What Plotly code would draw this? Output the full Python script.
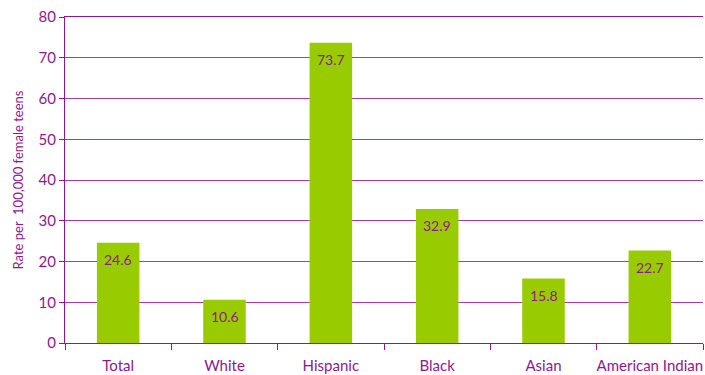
import plotly.graph_objects as go

categories = ["Total", "White", "Hispanic", "Black", "Asian", "American Indian"]
rates = [24.6, 10.6, 73.7, 32.9, 15.8, 22.7]
y_ticks = [0, 10, 20, 30, 40, 50, 60, 70, 80]

purple = "#8B1A8B"
green = "#99CC00"
font_family = "Lato, 'Open Sans', sans-serif"

fig = go.Figure()
fig.add_trace(go.Bar(
    x=categories, y=rates, marker=dict(color=green, line=dict(width=0)),
    width=0.4, hoverinfo="skip",
))

for c, v in zip(categories, rates):
    fig.add_annotation(x=c, y=v, text=f"{v:.1f}", showarrow=False, yanchor="middle",
                       yshift=-17, font=dict(family=font_family, size=14, color=purple))

fig.update_layout(
    width=705, height=375,
    margin=dict(l=65, r=2, t=17, b=32),
    plot_bgcolor="white", paper_bgcolor="white",
    showlegend=False,
    bargap=0.6,
    font=dict(family=font_family, color=purple),
)
fig.update_xaxes(
    type="category", tickson="boundaries", ticks="outside", ticklen=6,
    tickcolor=purple, tickwidth=1, showgrid=False,
    showline=True, linecolor=purple, linewidth=1, mirror=True,
    tickfont=dict(family=font_family, size=15, color=purple),
    ticklabelstandoff=9, automargin=False, tickangle=0,
    range=[-0.5, 5.5],
)
fig.update_yaxes(
    range=[0, 80], tickmode="array", tickvals=y_ticks,
    ticks="outside", ticklen=5, tickcolor=purple,
    showgrid=True, gridcolor="#A040A0", gridwidth=1,
    showline=True, linecolor=purple, linewidth=1,
    zeroline=False, automargin=False,
    tickfont=dict(family=font_family, size=15, color=purple),
    title=dict(text="Rate per  100,000 female teens", font=dict(family=font_family, size=13, color=purple), standoff=12),
)

fig.write_html(
    "out.html",
    config={"displayModeBar": False},
    post_script="document.body.style.margin='0';document.body.style.overflow='hidden';",
)
